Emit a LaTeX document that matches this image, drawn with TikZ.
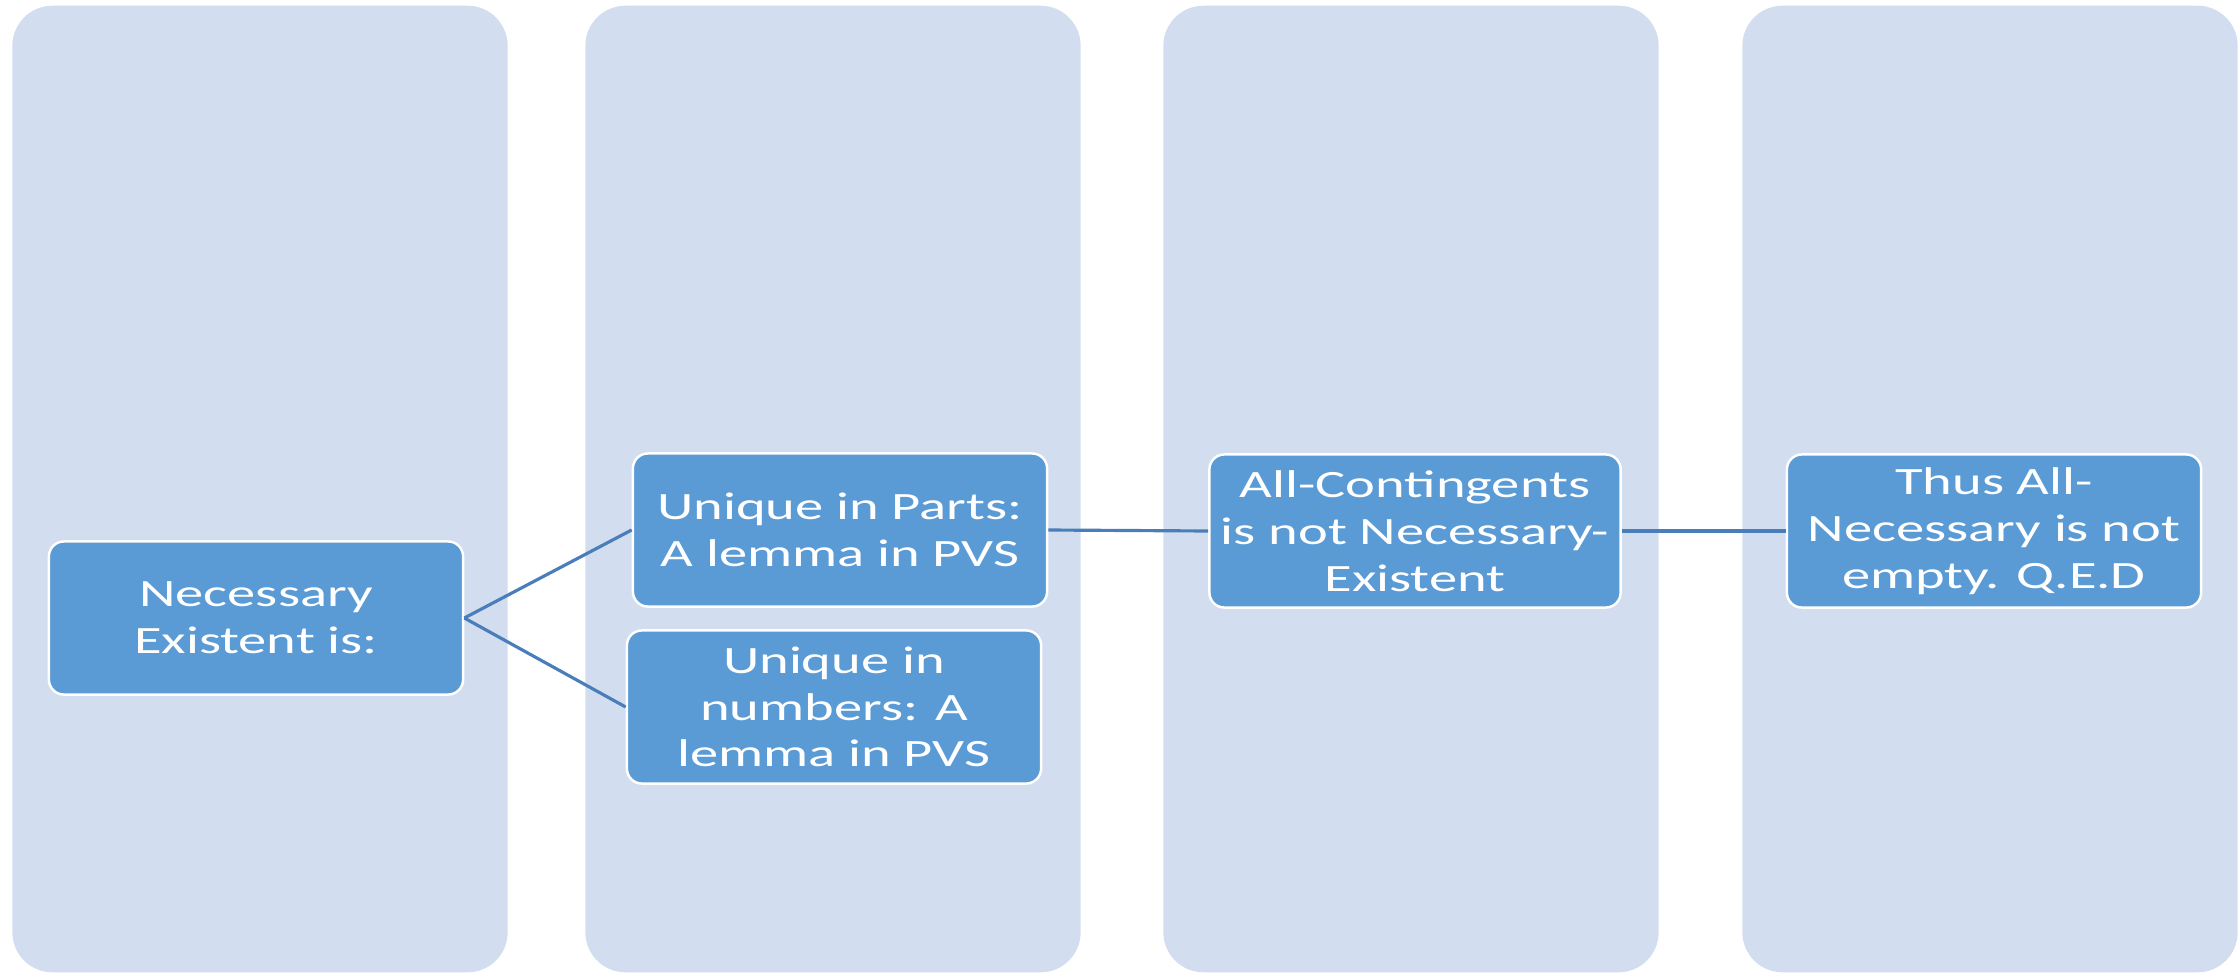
\documentclass[tikz,border=0pt]{standalone}
\usepackage{fontspec}
\setmainfont{Carlito}[FakeStretch=1.46]
\usepackage{tikz}
\usetikzlibrary{positioning}
\definecolor{lane}{HTML}{D2DEEF}
\definecolor{boxblue}{HTML}{5B9BD5}
\definecolor{link}{HTML}{4A7EBB}

\begin{document}
\begin{tikzpicture}[x=0.01cm,y=-0.01cm,
  lanebox/.style={fill=lane,rounded corners=0.4cm,minimum width=4.95cm,minimum height=9.66cm},
  stepbox/.style={draw=white,line width=0.7pt,fill=boxblue,rounded corners=0.15cm,text=white,align=center,
    minimum width=4.14cm,minimum height=1.53cm,inner sep=0pt,font=\fontsize{11}{13.3}\selectfont},
  linkline/.style={link,line width=0.9pt}]
\useasboundingbox (0,0) rectangle (2240,973);
% background lanes
\foreach \x/\n in {260/1,833/2,1411/3,1990/4}
  \node[lanebox] (lane\n) at (\x,489) {};
% steps
\node[stepbox] (nec) at (256,618) {Necessary\\Existent is:};
\node[stepbox] (parts) at (840,530) {Unique in Parts:\\A lemma in PVS};
\node[stepbox] (nums) at (834,707) {Unique in\\numbers: A\\lemma in PVS};
\node[stepbox,minimum width=4.11cm] (cont) at (1415,531) {All-Contingents\\is not Necessary-\\Existent};
\node[stepbox] (qed) at (1994,531) {Thus All-\\Necessary is not\\empty. Q.E.D};
\draw[linkline] (nec.east)--(parts.west);
\draw[linkline] (nec.east)--(nums.west);
\draw[linkline] (parts.east)--(cont.west);
\draw[linkline] (cont.east)--(qed.west);
\end{tikzpicture}
\end{document}
